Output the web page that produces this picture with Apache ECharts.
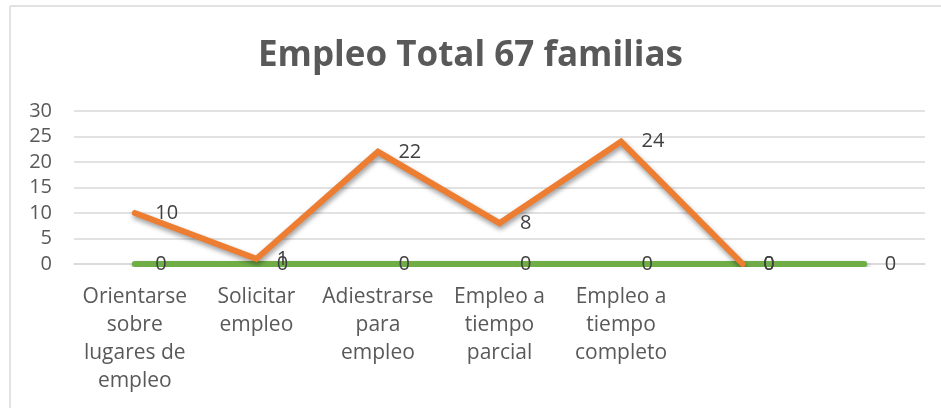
<!DOCTYPE html>
<html>
<head>
<meta charset="utf-8">
<script src="https://cdn.jsdelivr.net/npm/echarts@6/dist/echarts.min.js"></script>
<style>
html,body{margin:0;padding:0;background:#fff;}
#chart{width:941px;height:408px;}
</style>
</head>
<body>
<div id="chart"></div>
<script>
const titleText = 'Empleo Total 67 familias';
const categories = [
  'Orientarse\nsobre\nlugares de\nempleo',
  'Solicitar\nempleo',
  'Adiestrarse\npara\nempleo',
  'Empleo a\ntiempo\nparcial',
  'Empleo a\ntiempo\ncompleto',
  '',
  ''
];
const orangeValues = [10, 1, 22, 8, 24, 0, null];
const greenValues = [0, 0, 0, 0, 0, 0, 0];
const yTicks = { min: 0, max: 30, interval: 5 };

const FONT = 'Open Sans';
const chart = echarts.init(document.getElementById('chart'), null, { renderer: 'canvas' });

const lineShadow = {
  shadowColor: 'rgba(0,0,0,0.4)',
  shadowBlur: 5,
  shadowOffsetX: 1,
  shadowOffsetY: 3
};
const dataLabel = {
  show: true,
  position: 'right',
  distance: 20,
  fontFamily: FONT,
  fontSize: 20,
  color: '#404040'
};

chart.setOption({
  animation: false,
  backgroundColor: '#ffffff',
  title: {
    text: titleText,
    left: 'center',
    top: 34,
    textStyle: { fontFamily: FONT, fontSize: 35, fontWeight: 'bold', color: '#595959' }
  },
  graphic: [
    { type: 'line', shape: { x1: 10, y1: 6, x2: 941, y2: 6 }, style: { stroke: '#d9d9d9', lineWidth: 1.5 } },
    { type: 'line', shape: { x1: 10, y1: 6, x2: 10, y2: 408 }, style: { stroke: '#d9d9d9', lineWidth: 1.5 } }
  ],
  grid: { left: 74, right: 16, top: 111, bottom: 144, containLabel: false },
  xAxis: {
    type: 'category',
    data: categories,
    boundaryGap: true,
    axisTick: { show: false },
    axisLine: { show: true, lineStyle: { color: '#d9d9d9', width: 1.5 } },
    axisLabel: {
      interval: 0,
      margin: 19,
      fontFamily: FONT,
      fontSize: 21,
      lineHeight: 28,
      color: '#595959',
      align: 'center'
    }
  },
  yAxis: {
    type: 'value',
    min: yTicks.min,
    max: yTicks.max,
    interval: yTicks.interval,
    axisLine: { show: false },
    axisTick: { show: false },
    splitLine: { lineStyle: { color: '#d9d9d9', width: 1.5 } },
    axisLabel: { margin: 22, fontFamily: FONT, fontSize: 20, color: '#595959' }
  },
  series: [
    {
      name: 'green',
      type: 'line',
      data: greenValues,
      symbol: 'circle',
      symbolSize: 1,
      showSymbol: true,
      itemStyle: { color: 'rgba(0,0,0,0)' },
      z: 2,
      lineStyle: Object.assign({ color: '#70AD47', width: 6, cap: 'round' }, lineShadow),
      label: dataLabel,
      labelLayout: { hideOverlap: false }
    },
    {
      name: 'orange',
      type: 'line',
      data: orangeValues,
      symbol: 'circle',
      symbolSize: 1,
      showSymbol: true,
      itemStyle: { color: 'rgba(0,0,0,0)' },
      z: 3,
      lineStyle: Object.assign({ color: '#ED7D31', width: 6, cap: 'round', join: 'miter' }, lineShadow),
      label: dataLabel,
      labelLayout: { hideOverlap: false }
    }
  ]
});
</script>
</body>
</html>
